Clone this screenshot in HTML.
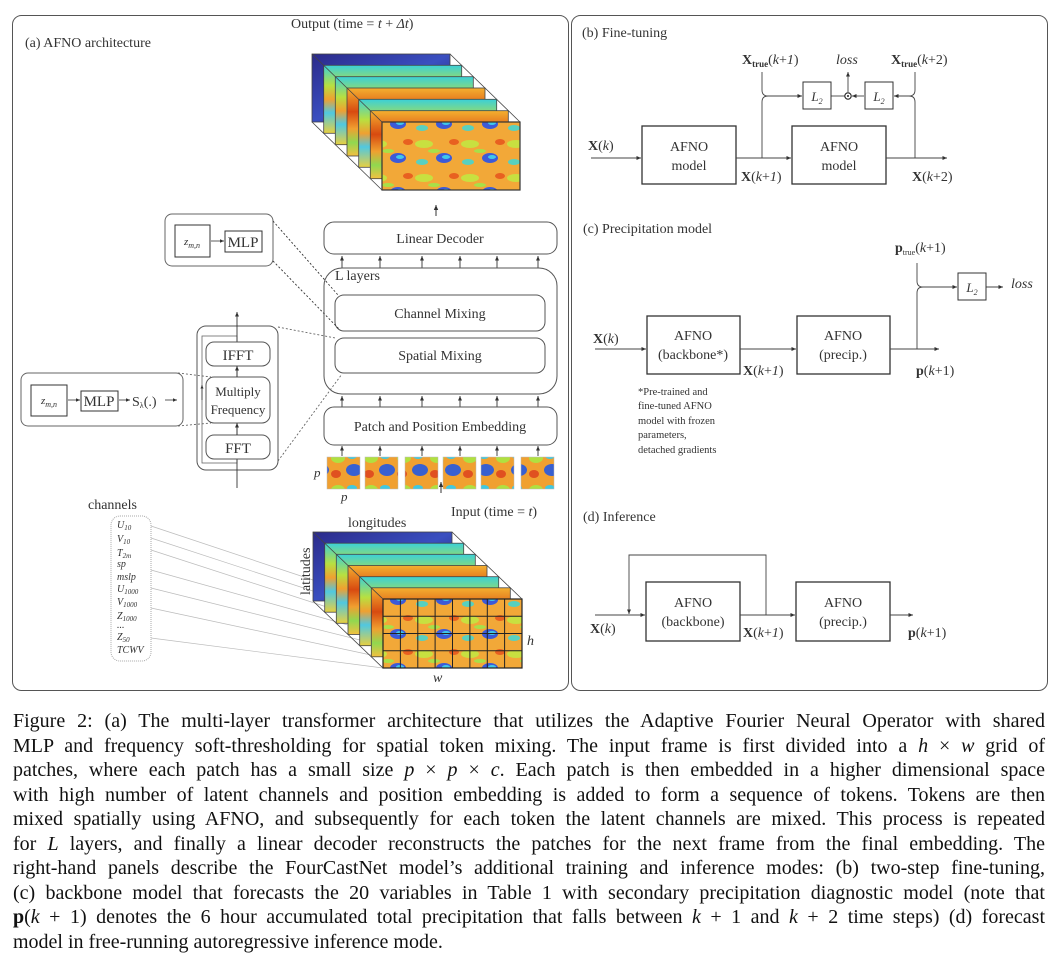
<!DOCTYPE html>
<html><head><meta charset="utf-8"><style>
html,body{margin:0;padding:0;background:#fff;}
body{width:1059px;height:955px;position:relative;overflow:hidden;font-family:"Liberation Serif",serif;}
svg{position:absolute;left:0;top:0;}
.cap{position:absolute;left:13px;width:1032px;font-size:20px;line-height:24.5px;color:#111;text-align:justify;text-align-last:justify;white-space:nowrap;}
.cap.last{text-align-last:left;}
svg text{font-family:"Liberation Serif",serif;fill:#333;}
</style></head><body>
<svg width="1059" height="700" viewBox="0 0 1059 700">
<defs>
<marker id="ar" markerWidth="6" markerHeight="6" refX="5" refY="3" orient="auto"><path d="M0,0.8 L5,3 L0,5.2 z" fill="#333"/></marker>
<linearGradient id="gN" x1="0" y1="0" x2="1" y2="1"><stop offset="0" stop-color="#2b2a8a"/><stop offset=".5" stop-color="#3a4fc0"/><stop offset="1" stop-color="#1e1a5a"/></linearGradient>
<linearGradient id="gA" x1="0" y1="0" x2="0" y2="1"><stop offset="0" stop-color="#3bd0d8"/><stop offset=".3" stop-color="#b8e040"/><stop offset=".5" stop-color="#f0a030"/><stop offset=".7" stop-color="#50c8e0"/><stop offset="1" stop-color="#e8d040"/></linearGradient>
<linearGradient id="gB" x1="0" y1="0" x2="0" y2="1"><stop offset="0" stop-color="#f4b030"/><stop offset=".35" stop-color="#d84a10"/><stop offset=".6" stop-color="#f0a030"/><stop offset=".8" stop-color="#90d850"/><stop offset="1" stop-color="#f4c040"/></linearGradient>
<pattern id="pf" width="46" height="34" patternUnits="userSpaceOnUse">
<rect width="46" height="34" fill="#f2a838"/>
<ellipse cx="10" cy="8" rx="9" ry="4" fill="#c8e040"/>
<ellipse cx="30" cy="22" rx="8" ry="5" fill="#3c5ad8"/>
<ellipse cx="32" cy="21" rx="4" ry="2" fill="#40c8e8"/>
<ellipse cx="8" cy="26" rx="6" ry="3" fill="#58d0c0"/>
<ellipse cx="40" cy="6" rx="5" ry="3" fill="#e86020"/>
<ellipse cx="20" cy="15" rx="6" ry="2" fill="#a8e048"/>
</pattern>
<pattern id="pp" width="33" height="32" patternUnits="userSpaceOnUse">
<rect width="33" height="32" fill="#f0a030"/>
<ellipse cx="8" cy="10" rx="7" ry="5" fill="#b0e040"/>
<ellipse cx="24" cy="22" rx="8" ry="6" fill="#3860d0"/>
<ellipse cx="22" cy="8" rx="5" ry="3" fill="#40c8e0"/>
<ellipse cx="6" cy="26" rx="5" ry="4" fill="#e05020"/>
</pattern>
</defs>

<rect x="12.5" y="15.5" width="556" height="675" rx="9" fill="none" stroke="#555" stroke-width="1"/>
<rect x="571.5" y="15.5" width="476" height="675" rx="9" fill="none" stroke="#555" stroke-width="1"/>

<text x="25" y="47" font-size="14">(a) AFNO architecture</text>
<text x="291" y="28" font-size="14">Output (time = <tspan font-style="italic">t</tspan> + <tspan font-style="italic">Δt</tspan>)</text>

<g stroke="#444" stroke-width="0.8">
<rect x="312" y="54" width="138" height="68" fill="url(#gN)"/>
<rect x="323.7" y="65.3" width="138" height="68" fill="url(#gA)"/>
<rect x="335.3" y="76.7" width="138" height="68" fill="url(#gA)"/>
<rect x="347" y="88" width="138" height="68" fill="url(#gB)"/>
<rect x="358.7" y="99.3" width="138" height="68" fill="url(#gA)"/>
<rect x="370.3" y="110.7" width="138" height="68" fill="url(#gB)"/>
<rect x="382" y="122" width="138" height="68" fill="url(#pf)" stroke="#333" stroke-width="1.2"/>
<line x1="312" y1="54" x2="382" y2="122"/>
<line x1="450" y1="54" x2="520" y2="122"/>
<line x1="312" y1="122" x2="382" y2="190"/>
</g>
<line x1="436" y1="216" x2="436" y2="205" stroke="#333" marker-end="url(#ar)"/>

<rect x="324" y="222" width="233" height="32" rx="10" fill="#fff" stroke="#555"/>
<text x="440" y="243" font-size="14" text-anchor="middle">Linear Decoder</text>
<g stroke="#333" stroke-width="0.9">
<line x1="342" y1="268" x2="342" y2="256" marker-end="url(#ar)"/>
<line x1="380" y1="268" x2="380" y2="256" marker-end="url(#ar)"/>
<line x1="422" y1="268" x2="422" y2="256" marker-end="url(#ar)"/>
<line x1="460" y1="268" x2="460" y2="256" marker-end="url(#ar)"/>
<line x1="497" y1="268" x2="497" y2="256" marker-end="url(#ar)"/>
<line x1="538" y1="268" x2="538" y2="256" marker-end="url(#ar)"/>
<line x1="342" y1="407" x2="342" y2="396" marker-end="url(#ar)"/>
<line x1="380" y1="407" x2="380" y2="396" marker-end="url(#ar)"/>
<line x1="422" y1="407" x2="422" y2="396" marker-end="url(#ar)"/>
<line x1="460" y1="407" x2="460" y2="396" marker-end="url(#ar)"/>
<line x1="497" y1="407" x2="497" y2="396" marker-end="url(#ar)"/>
<line x1="538" y1="407" x2="538" y2="396" marker-end="url(#ar)"/>
<line x1="342" y1="456" x2="342" y2="446" marker-end="url(#ar)"/>
<line x1="380" y1="456" x2="380" y2="446" marker-end="url(#ar)"/>
<line x1="422" y1="456" x2="422" y2="446" marker-end="url(#ar)"/>
<line x1="460" y1="456" x2="460" y2="446" marker-end="url(#ar)"/>
<line x1="497" y1="456" x2="497" y2="446" marker-end="url(#ar)"/>
<line x1="538" y1="456" x2="538" y2="446" marker-end="url(#ar)"/>
</g>
<rect x="324" y="268" width="233" height="126" rx="18" fill="none" stroke="#555"/>
<text x="335" y="280" font-size="14">L layers</text>
<rect x="335" y="295" width="210" height="36" rx="9" fill="none" stroke="#555"/>
<text x="440" y="318" font-size="14" text-anchor="middle">Channel Mixing</text>
<rect x="335" y="338" width="210" height="35" rx="9" fill="none" stroke="#555"/>
<text x="440" y="360" font-size="14" text-anchor="middle">Spatial Mixing</text>
<rect x="324" y="407" width="233" height="38" rx="10" fill="none" stroke="#555"/>
<text x="440" y="431" font-size="14" text-anchor="middle">Patch and Position Embedding</text>
<g stroke="#bbb" stroke-width="0.5">
<rect x="327" y="457" width="33" height="32" fill="url(#pp)"/>
<rect x="365" y="457" width="33" height="32" fill="url(#pp)"/>
<rect x="405" y="457" width="33" height="32" fill="url(#pp)"/>
<rect x="443" y="457" width="33" height="32" fill="url(#pp)"/>
<rect x="481" y="457" width="33" height="32" fill="url(#pp)"/>
<rect x="521" y="457" width="33" height="32" fill="url(#pp)"/>
</g>
<text x="314" y="477" font-size="13" font-style="italic">p</text>
<text x="341" y="501" font-size="13" font-style="italic">p</text>
<line x1="441" y1="493" x2="441" y2="482" stroke="#333" marker-end="url(#ar)"/>

<rect x="165" y="214" width="108" height="52" rx="7" fill="none" stroke="#666"/>
<rect x="175" y="225" width="35" height="32" fill="none" stroke="#333"/>
<text x="192" y="245" font-size="11" font-style="italic" text-anchor="middle">z<tspan font-size="8" dy="3">m,n</tspan></text>
<line x1="211" y1="241" x2="224" y2="241" stroke="#333" stroke-width="0.8" marker-end="url(#ar)"/>
<rect x="225" y="231" width="37" height="21" fill="none" stroke="#333"/>
<text x="243" y="247" font-size="15" text-anchor="middle">MLP</text>
<g stroke="#333" stroke-width="0.9" stroke-dasharray="2,2" fill="none">
<line x1="273" y1="221" x2="338" y2="295"/>
<line x1="273" y1="261" x2="340" y2="330"/>
<line x1="278" y1="327" x2="335" y2="338" stroke="#666"/>
<line x1="278" y1="461" x2="342" y2="374" stroke="#666"/>
<line x1="178" y1="373" x2="211" y2="377" stroke="#666"/>
<line x1="178" y1="426" x2="211" y2="423" stroke="#666"/>
</g>

<rect x="197" y="326" width="81" height="144" rx="9" fill="none" stroke="#555"/>
<rect x="202" y="336" width="35" height="127" fill="none" stroke="#666" stroke-width="0.8"/>
<line x1="202" y1="400" x2="202" y2="385" stroke="#333" stroke-width="0.7" marker-end="url(#ar)"/>
<line x1="237" y1="488" x2="237" y2="312" stroke="#333" stroke-width="0.9" marker-end="url(#ar)"/>
<rect x="206" y="342" width="64" height="24" rx="8" fill="#fff" stroke="#555"/>
<text x="238" y="360" font-size="15" text-anchor="middle">IFFT</text>
<rect x="206" y="377" width="64" height="46" rx="8" fill="#fff" stroke="#555"/>
<text x="238" y="396" font-size="13" text-anchor="middle">Multiply</text>
<text x="238" y="414" font-size="13" text-anchor="middle">Frequency</text>
<rect x="206" y="435" width="64" height="24" rx="8" fill="#fff" stroke="#555"/>
<text x="238" y="453" font-size="15" text-anchor="middle">FFT</text>
<line x1="237" y1="377" x2="237" y2="366" stroke="#333" stroke-width="0.9" marker-end="url(#ar)"/>
<line x1="237" y1="435" x2="237" y2="423" stroke="#333" stroke-width="0.9" marker-end="url(#ar)"/>

<rect x="21" y="373" width="162" height="53" rx="7" fill="none" stroke="#666"/>
<rect x="31" y="385" width="36" height="31" fill="none" stroke="#333"/>
<text x="49" y="404" font-size="11" font-style="italic" text-anchor="middle">z<tspan font-size="8" dy="3">m,n</tspan></text>
<line x1="68" y1="400" x2="80" y2="400" stroke="#333" stroke-width="0.8" marker-end="url(#ar)"/>
<rect x="81" y="391" width="37" height="20" fill="none" stroke="#333"/>
<text x="99" y="406" font-size="15" text-anchor="middle">MLP</text>
<line x1="119" y1="400" x2="130" y2="400" stroke="#333" stroke-width="0.8" marker-end="url(#ar)"/>
<text x="132" y="406" font-size="14">S<tspan font-size="8" dy="2">λ</tspan><tspan dy="-2">(.)</tspan></text>
<line x1="165" y1="400" x2="177" y2="400" stroke="#333" stroke-width="0.8" marker-end="url(#ar)"/>

<text x="88" y="509" font-size="14">channels</text>
<rect x="111" y="516" width="40" height="145" rx="9" fill="none" stroke="#aaa" stroke-dasharray="1,1"/>
<g font-size="10" font-style="italic">
<text x="117" y="528">U<tspan font-size="7" dy="2">10</tspan></text>
<text x="117" y="542">V<tspan font-size="7" dy="2">10</tspan></text>
<text x="117" y="556">T<tspan font-size="7" dy="2">2m</tspan></text>
<text x="117" y="567">sp</text>
<text x="117" y="580">mslp</text>
<text x="117" y="592">U<tspan font-size="7" dy="2">1000</tspan></text>
<text x="117" y="605">V<tspan font-size="7" dy="2">1000</tspan></text>
<text x="117" y="619">Z<tspan font-size="7" dy="2">1000</tspan></text>
<text x="117" y="628">...</text>
<text x="117" y="640">Z<tspan font-size="7" dy="2">50</tspan></text>
<text x="117" y="653">TCWV</text>
</g>
<g stroke="#bbb" stroke-width="0.7">
<line x1="151" y1="526" x2="313" y2="580"/>
<line x1="151" y1="538" x2="325" y2="595"/>
<line x1="151" y1="550" x2="336" y2="610"/>
<line x1="151" y1="570" x2="348" y2="625"/>
<line x1="151" y1="588" x2="360" y2="640"/>
<line x1="151" y1="608" x2="371" y2="655"/>
<line x1="151" y1="638" x2="383" y2="668"/>
</g>
<g stroke="#444" stroke-width="0.8">
<rect x="313" y="532" width="139" height="69" fill="url(#gN)"/>
<rect x="324.7" y="543.2" width="139" height="69" fill="url(#gA)"/>
<rect x="336.3" y="554.3" width="139" height="69" fill="url(#gA)"/>
<rect x="348" y="565.5" width="139" height="69" fill="url(#gB)"/>
<rect x="359.7" y="576.7" width="139" height="69" fill="url(#gA)"/>
<rect x="371.3" y="587.8" width="139" height="69" fill="url(#gB)"/>
<rect x="383" y="599" width="139" height="69" fill="url(#pf)" stroke="#222" stroke-width="1.2"/>
<line x1="313" y1="532" x2="383" y2="599"/>
<line x1="452" y1="532" x2="522" y2="599"/>
<line x1="313" y1="601" x2="383" y2="668"/>
</g>
<g stroke="#222" stroke-width="1">
<line x1="400.4" y1="599" x2="400.4" y2="668"/><line x1="417.8" y1="599" x2="417.8" y2="668"/>
<line x1="435.1" y1="599" x2="435.1" y2="668"/><line x1="452.5" y1="599" x2="452.5" y2="668"/>
<line x1="469.9" y1="599" x2="469.9" y2="668"/><line x1="487.3" y1="599" x2="487.3" y2="668"/>
<line x1="504.6" y1="599" x2="504.6" y2="668"/>
<line x1="383" y1="616.3" x2="522" y2="616.3"/><line x1="383" y1="633.5" x2="522" y2="633.5"/>
<line x1="383" y1="650.8" x2="522" y2="650.8"/>
</g>
<text x="348" y="527" font-size="14">longitudes</text>
<text x="0" y="0" font-size="14" transform="translate(310,595) rotate(-90)">latitudes</text>
<text x="527" y="645" font-size="14" font-style="italic">h</text>
<text x="433" y="682" font-size="14" font-style="italic">w</text>
<text x="451" y="516" font-size="14">Input (time = <tspan font-style="italic">t</tspan>)</text>

<text x="582" y="37" font-size="14">(b) Fine-tuning</text>
<g font-size="14">
<text x="742" y="64"><tspan font-weight="bold">X</tspan><tspan font-weight="bold" font-size="9" dy="3">true</tspan><tspan dy="-3">(</tspan><tspan font-style="italic">k</tspan>+<tspan font-style="italic">1</tspan>)</text>
<text x="836" y="64" font-style="italic">loss</text>
<text x="891" y="64"><tspan font-weight="bold">X</tspan><tspan font-weight="bold" font-size="9" dy="3">true</tspan><tspan dy="-3">(</tspan><tspan font-style="italic">k</tspan>+2)</text>
<text x="588" y="150"><tspan font-weight="bold">X</tspan>(<tspan font-style="italic">k</tspan>)</text>
<text x="741" y="181"><tspan font-weight="bold">X</tspan>(<tspan font-style="italic">k</tspan>+<tspan font-style="italic">1</tspan>)</text>
<text x="912" y="181"><tspan font-weight="bold">X</tspan>(<tspan font-style="italic">k</tspan>+2)</text>
</g>
<rect x="642" y="126" width="94" height="58" fill="none" stroke="#333" stroke-width="1.3"/>
<text x="689" y="151" font-size="14" text-anchor="middle">AFNO</text>
<text x="689" y="170" font-size="14" text-anchor="middle">model</text>
<rect x="792" y="126" width="94" height="58" fill="none" stroke="#333" stroke-width="1.3"/>
<text x="839" y="151" font-size="14" text-anchor="middle">AFNO</text>
<text x="839" y="170" font-size="14" text-anchor="middle">model</text>
<g stroke="#444" stroke-width="0.9" fill="none">
<line x1="591" y1="158" x2="641" y2="158" marker-end="url(#ar)"/>
<line x1="736" y1="158" x2="791" y2="158" marker-end="url(#ar)"/>
<line x1="886" y1="158" x2="947" y2="158" marker-end="url(#ar)"/>
<path d="M762,72 V90 Q762,96 768,96 M762,158 V102 Q762,96 768,96 H802" marker-end="url(#ar)"/>
<path d="M915,72 V90 Q915,96 909,96 M915,158 V102 Q915,96 909,96 H894" marker-end="url(#ar)"/>
<line x1="831" y1="96" x2="845" y2="96"/>
<line x1="864" y1="96" x2="852" y2="96" marker-end="url(#ar)"/>
<line x1="848" y1="92" x2="848" y2="72" marker-end="url(#ar)"/>
<circle cx="848" cy="96" r="3.2" stroke="#222" stroke-width="1.1"/>
</g>
<circle cx="848" cy="96" r="1" fill="#222"/>
<rect x="803" y="82" width="28" height="27" fill="#fff" stroke="#333"/>
<text x="817" y="101" font-size="13" font-style="italic" text-anchor="middle">L<tspan font-size="8" dy="3">2</tspan></text>
<rect x="865" y="82" width="28" height="27" fill="#fff" stroke="#333"/>
<text x="879" y="101" font-size="13" font-style="italic" text-anchor="middle">L<tspan font-size="8" dy="3">2</tspan></text>

<text x="583" y="233" font-size="14">(c) Precipitation model</text>
<g font-size="14">
<text x="895" y="252"><tspan font-weight="bold">p</tspan><tspan font-size="8" dy="3">true</tspan><tspan dy="-3">(</tspan><tspan font-style="italic">k</tspan>+1)</text>
<text x="1011" y="288" font-style="italic">loss</text>
<text x="593" y="343"><tspan font-weight="bold">X</tspan>(<tspan font-style="italic">k</tspan>)</text>
<text x="743" y="375"><tspan font-weight="bold">X</tspan>(<tspan font-style="italic">k</tspan>+<tspan font-style="italic">1</tspan>)</text>
<text x="916" y="375"><tspan font-weight="bold">p</tspan>(<tspan font-style="italic">k</tspan>+1)</text>
</g>
<rect x="647" y="316" width="93" height="58" fill="none" stroke="#333" stroke-width="1.3"/>
<text x="693" y="340" font-size="14" text-anchor="middle">AFNO</text>
<text x="693" y="359" font-size="14" text-anchor="middle">(backbone*)</text>
<rect x="797" y="316" width="93" height="58" fill="none" stroke="#333" stroke-width="1.3"/>
<text x="843" y="340" font-size="14" text-anchor="middle">AFNO</text>
<text x="843" y="359" font-size="14" text-anchor="middle">(precip.)</text>
<g stroke="#444" stroke-width="0.9" fill="none">
<line x1="595" y1="349" x2="646" y2="349" marker-end="url(#ar)"/>
<line x1="740" y1="349" x2="796" y2="349" marker-end="url(#ar)"/>
<line x1="890" y1="349" x2="939" y2="349" marker-end="url(#ar)"/>
<path d="M917,263 V281 Q917,287 923,287 M917,349 V293 Q917,287 923,287 H957" marker-end="url(#ar)"/>
<line x1="986" y1="287" x2="1003" y2="287" marker-end="url(#ar)"/>
</g>
<rect x="958" y="273" width="28" height="27" fill="#fff" stroke="#333"/>
<text x="972" y="292" font-size="13" font-style="italic" text-anchor="middle">L<tspan font-size="8" dy="3">2</tspan></text>
<g font-size="10.5" fill="#444">
<text x="638" y="395">*Pre-trained and</text>
<text x="638" y="409">fine-tuned AFNO</text>
<text x="638" y="424">model with frozen</text>
<text x="638" y="438">parameters,</text>
<text x="638" y="453">detached gradients</text>
</g>

<text x="583" y="521" font-size="14">(d) Inference</text>
<rect x="646" y="582" width="94" height="59" fill="none" stroke="#333" stroke-width="1.3"/>
<text x="693" y="607" font-size="14" text-anchor="middle">AFNO</text>
<text x="693" y="626" font-size="14" text-anchor="middle">(backbone)</text>
<rect x="796" y="582" width="94" height="59" fill="none" stroke="#333" stroke-width="1.3"/>
<text x="843" y="607" font-size="14" text-anchor="middle">AFNO</text>
<text x="843" y="626" font-size="14" text-anchor="middle">(precip.)</text>
<g stroke="#444" stroke-width="0.9" fill="none">
<line x1="595" y1="615" x2="645" y2="615" marker-end="url(#ar)"/>
<line x1="740" y1="615" x2="795" y2="615" marker-end="url(#ar)"/>
<line x1="890" y1="615" x2="913" y2="615" marker-end="url(#ar)"/>
<path d="M766,615 V555 H629 V614" marker-end="url(#ar)"/>
</g>
<g font-size="14">
<text x="590" y="633"><tspan font-weight="bold">X</tspan>(<tspan font-style="italic">k</tspan>)</text>
<text x="743" y="637"><tspan font-weight="bold">X</tspan>(<tspan font-style="italic">k</tspan>+<tspan font-style="italic">1</tspan>)</text>
<text x="908" y="637"><tspan font-weight="bold">p</tspan>(<tspan font-style="italic">k</tspan>+1)</text>
</g>
</svg>

<div class="cap" style="top:709px">Figure 2: (a) The multi-layer transformer architecture that utilizes the Adaptive Fourier Neural Operator with shared</div>
<div class="cap" style="top:733.5px">MLP and frequency soft-thresholding for spatial token mixing. The input frame is first divided into a <i>h</i> × <i>w</i> grid of</div>
<div class="cap" style="top:758px">patches, where each patch has a small size <i>p</i> × <i>p</i> × <i>c</i>. Each patch is then embedded in a higher dimensional space</div>
<div class="cap" style="top:782.5px">with high number of latent channels and position embedding is added to form a sequence of tokens. Tokens are then</div>
<div class="cap" style="top:807px">mixed spatially using AFNO, and subsequently for each token the latent channels are mixed. This process is repeated</div>
<div class="cap" style="top:831.5px">for <i>L</i> layers, and finally a linear decoder reconstructs the patches for the next frame from the final embedding. The</div>
<div class="cap" style="top:856px">right-hand panels describe the FourCastNet model’s additional training and inference modes: (b) two-step fine-tuning,</div>
<div class="cap" style="top:880.5px">(c) backbone model that forecasts the 20 variables in Table 1 with secondary precipitation diagnostic model (note that</div>
<div class="cap" style="top:905px"><b>p</b>(<i>k</i> + 1) denotes the 6 hour accumulated total precipitation that falls between <i>k</i> + 1 and <i>k</i> + 2 time steps) (d) forecast</div>
<div class="cap last" style="top:929.5px">model in free-running autoregressive inference mode.</div>
</body></html>
